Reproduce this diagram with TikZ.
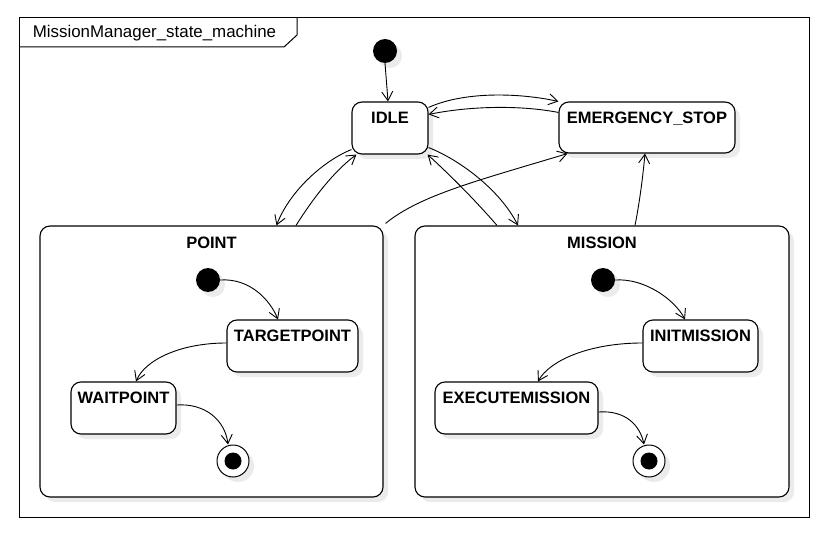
\documentclass[tikz,border=0pt]{standalone}
\usepackage{fontspec}
\setmainfont{Liberation Sans}
\usetikzlibrary{arrows.meta,shadows}
\begin{document}
\begin{tikzpicture}[x=1pt,y=-1pt,
  shd/.style={drop shadow={shadow xshift=5pt,shadow yshift=-5pt,fill=black!8,opacity=1}},
  state/.style={draw,line width=1.1pt,rounded corners=10pt,fill=white,shd,inner sep=0pt},
  ttl/.style={font=\fontsize{16.5}{20}\selectfont\bfseries,inner sep=0pt},
  initst/.style={circle,fill=black,minimum size=24pt,inner sep=0pt,shd},
  finst/.style={circle,draw,line width=1pt,fill=white,minimum size=32pt,inner sep=0pt,shd},
  findot/.style={circle,fill=black,minimum size=17pt,inner sep=0pt},
  tr/.style={line width=0.9pt,-{Straight Barb[length=9pt,width=11pt,line width=0.9pt]}}]
\useasboundingbox (0,0) rectangle (826,537);
% frame
\node[draw,line width=1pt,minimum width=790pt,minimum height=499pt,inner sep=0pt] (frame) at (414,267.5) {};
\draw[line width=1pt] (19,47) -- (284,47) -- (297,35) -- (297,18);
\node[font=\fontsize{16.9}{20}\selectfont,anchor=base,inner sep=0pt] (fname) at (154.5,38) {MissionManager\_state\_machine};
% top-level states
\node[initst] (i0) at (385,51) {};
\node[state,minimum width=76pt,minimum height=52pt,label={[ttl,anchor=base,yshift=-22pt]north:IDLE}] (idle) at (390,128) {};
\node[state,minimum width=176pt,minimum height=51pt,label={[ttl,anchor=base,yshift=-22pt]north:EMERGENCY\_STOP}] (emer) at (647,127.5) {};
\node[state,minimum width=343pt,minimum height=271pt,label={[ttl,anchor=base,yshift=-23pt]north:POINT}] (point) at (211.5,361.5) {};
\node[state,minimum width=374pt,minimum height=271pt,label={[ttl,anchor=base,yshift=-23pt]north:MISSION}] (mission) at (602,361.5) {};
% POINT inner
\node[initst] (ip) at (208,280) {};
\node[state,minimum width=131pt,minimum height=52pt,label={[ttl,anchor=base,yshift=-22pt]north:TARGETPOINT}] (target) at (292.5,346) {};
\node[state,minimum width=105pt,minimum height=52pt,label={[ttl,anchor=base,yshift=-22pt]north:WAITPOINT}] (wait) at (123.5,408) {};
\node[finst] (fp) at (233,461) {};
\node[findot] (fpd) at (233,461) {};
% MISSION inner
\node[initst] (im) at (603,280) {};
\node[state,minimum width=115pt,minimum height=52pt,label={[ttl,anchor=base,yshift=-22pt]north:INITMISSION}] (initm) at (700.5,346) {};
\node[state,minimum width=163pt,minimum height=52pt,label={[ttl,anchor=base,yshift=-22pt]north:EXECUTEMISSION}] (exec) at (516.5,408) {};
\node[finst] (fm) at (649,461) {};
\node[findot] (fmd) at (649,461) {};
% top-level transitions
\draw[tr] (i0.south) -- ([xshift=-2pt]idle.north);
\draw[tr] ([yshift=-6pt]idle.north east) .. controls (465,91) and (520,93) .. (emer.north west);
\draw[tr] ([yshift=-11pt]emer.north west) .. controls (520,105) and (470,106) .. ([yshift=-13pt]idle.north east);
\draw[tr] ([yshift=5pt]idle.south west) .. controls (325,160) and (290,190) .. ([xshift=65pt]point.north);
\draw[tr] ([xshift=84.5pt]point.north) .. controls (312,200) and (333,172) .. ([xshift=5pt]idle.south west);
\draw[tr] ([xshift=2pt,yshift=2pt]point.north east) .. controls (420,195) and (480,180) .. ([xshift=9pt]emer.south west);
\draw[tr] ([yshift=7pt]idle.south east) .. controls (460,160) and (500,190) .. ([xshift=-84pt]mission.north);
\draw[tr] ([xshift=-105pt]mission.north) .. controls (475,200) and (450,175) .. ([xshift=-1pt]idle.south east);
\draw[tr] ([xshift=33pt]mission.north) .. controls (640,200) and (643,175) .. ([xshift=-2pt]emer.south);
% inner transitions
\draw[tr] (ip.east) .. controls (250,278) and (270,300) .. ([xshift=-14.5pt]target.north);
\draw[tr] ([yshift=3pt]target.west) .. controls (180,343) and (145,360) .. ([xshift=12.5pt]wait.north);
\draw[tr] ([yshift=3pt]wait.east) .. controls (205,403) and (225,420) .. ([xshift=-5pt]fp.north);
\draw[tr] (im.east) .. controls (645,278) and (675,300) .. ([xshift=-15.5pt]initm.north);
\draw[tr] ([yshift=3pt]initm.west) .. controls (590,343) and (550,360) .. ([xshift=21.5pt]exec.north);
\draw[tr] ([yshift=-4pt]exec.east) .. controls (625,410) and (640,425) .. ([xshift=-5pt]fm.north);
\end{tikzpicture}
\end{document}
